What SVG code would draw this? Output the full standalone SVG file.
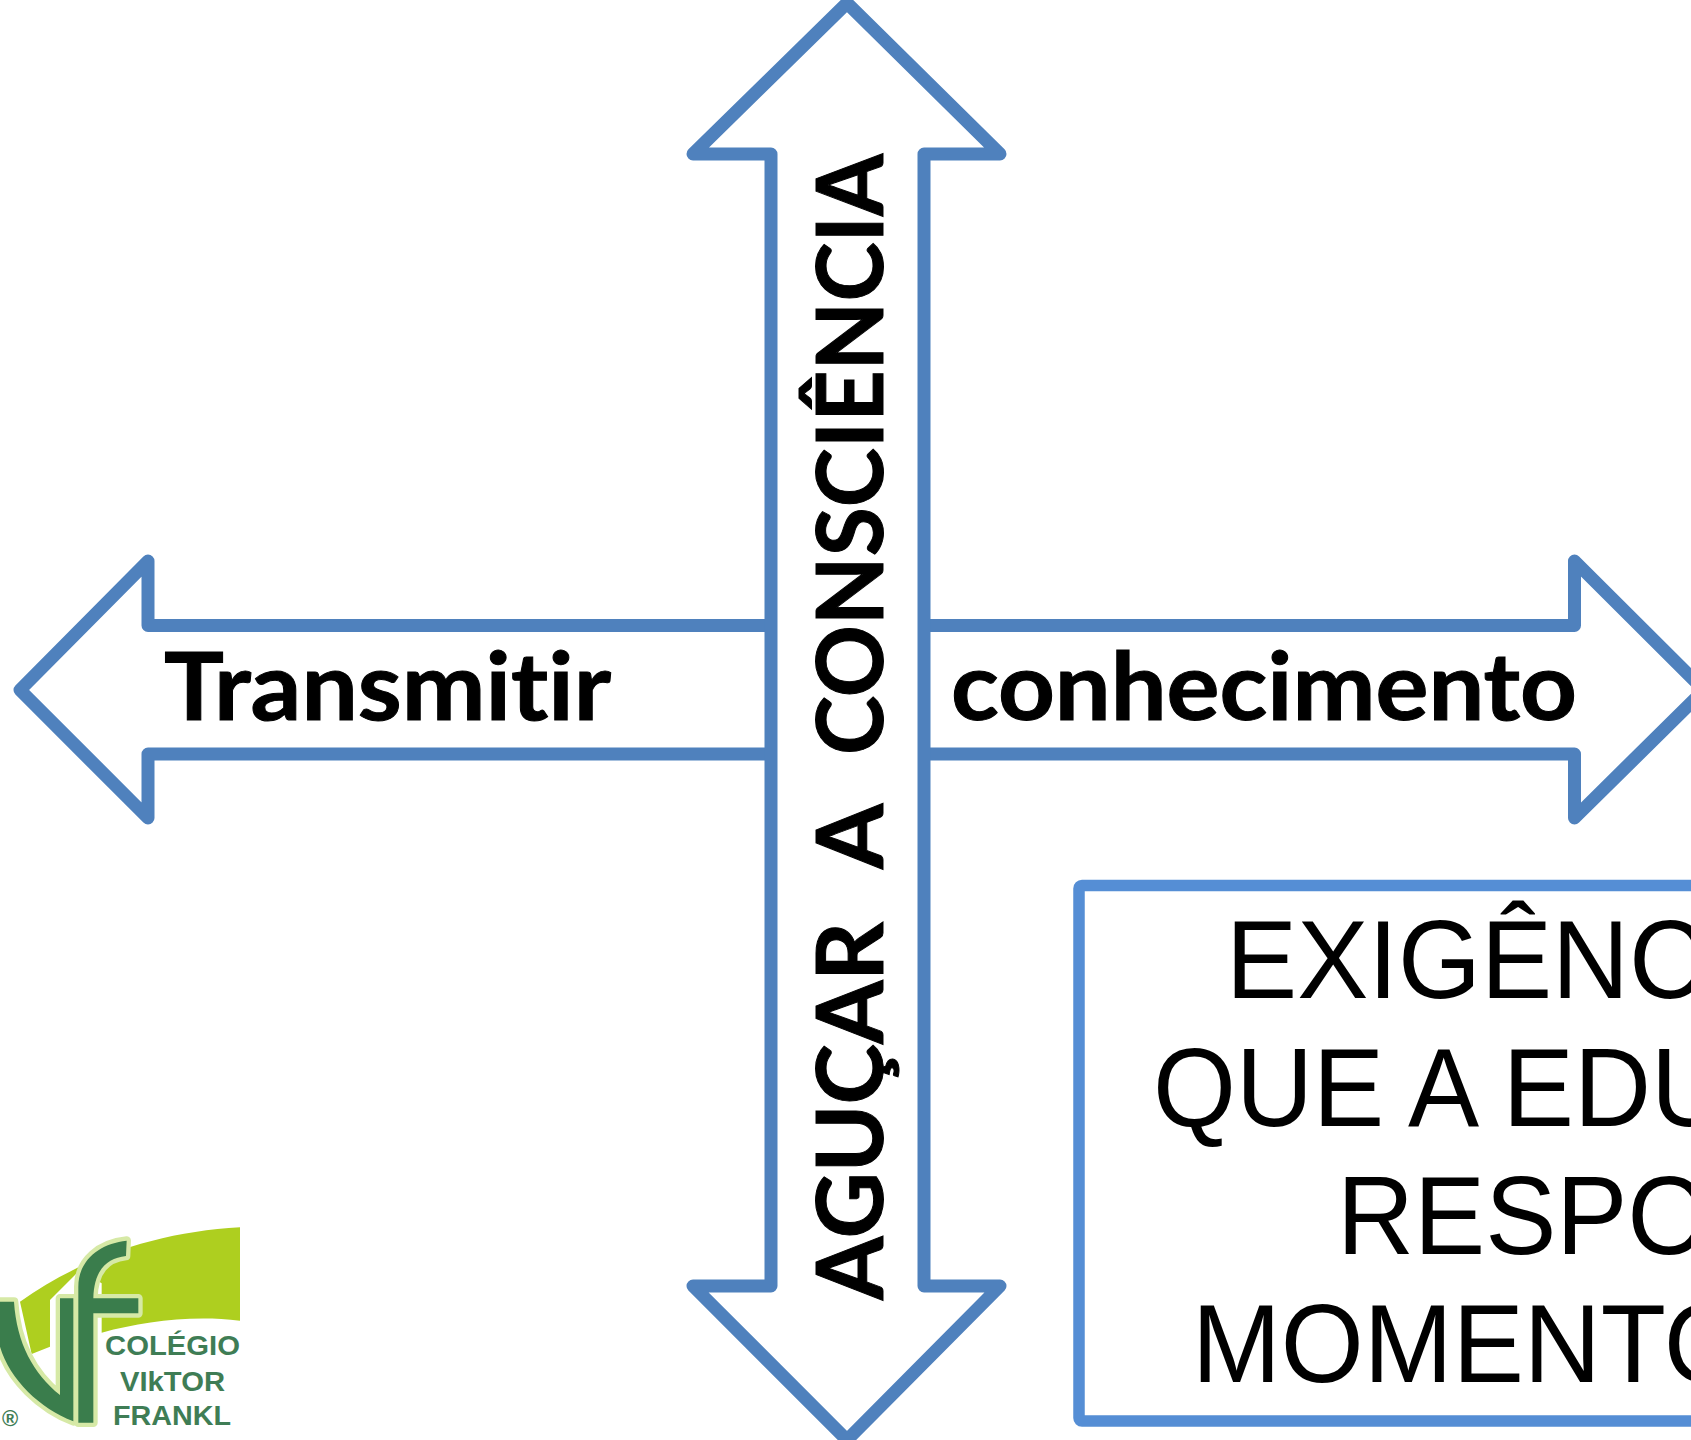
<svg xmlns="http://www.w3.org/2000/svg" width="1691" height="1440" viewBox="0 0 1691 1440">
<style>
.arrow{fill:#fff;stroke:#4f81bd;stroke-width:13;stroke-linejoin:round}
.bold{font-family:"Lato","Liberation Sans",sans-serif;font-weight:700;fill:#000;stroke:#000;stroke-width:1;font-variant-ligatures:none}
.big{font-family:"Liberation Sans",Arial,sans-serif;font-size:106.670px;fill:#000}
.logo{font-family:"Liberation Sans",Arial,sans-serif;font-weight:700;font-size:27px;fill:#3f7d55}
.dark{fill:#3a7d4c;stroke:#d6e9a6;stroke-width:26;paint-order:stroke;stroke-linejoin:round}
</style>
<rect width="1691" height="1440" fill="#fff"/>
<g id="connectors">
<path id="arrow-horizontal" class="arrow" d="M20 690 L148 561 L148 625.500 L1574.500 625.500 L1574.500 561 L1704 690 L1574.500 818 L1574.500 754 L148 754 L148 818 Z"/>
<path id="arrow-vertical" class="arrow" d="M847 3 L1000 154 L924 154 L924 1286 L1000 1286 L847 1440 L693 1286 L771 1286 L771 154 L693 154 Z"/>
</g>
<g id="label-transmitir"><text class="bold" x="164" y="720" font-size="94" textLength="447" lengthAdjust="spacingAndGlyphs">Transmitir</text></g>
<g id="label-conhecimento"><text class="bold" x="951" y="720" font-size="94" textLength="626" lengthAdjust="spacingAndGlyphs">conhecimento</text></g>
<g id="label-vertical"><text class="bold" transform="translate(883 1300) rotate(-90)" font-size="92"><tspan x="0" textLength="378" lengthAdjust="spacingAndGlyphs">AGUÇAR</tspan> <tspan x="431" textLength="62" lengthAdjust="spacingAndGlyphs">A</tspan> <tspan x="545" textLength="601" lengthAdjust="spacingAndGlyphs">CONSCIÊNCIA</tspan></text></g>
<g id="box">
<rect x="1079" y="885.500" width="700" height="535.500" rx="3" fill="#fff" stroke="#558ed5" stroke-width="11.500"/>
<text class="big" transform="translate(1226 998) scale(1 1.05)">EXIGÊNC</text>
<text class="big" transform="translate(1153 1126) scale(1 1.05)">QUE A EDU</text>
<text class="big" transform="translate(1337 1254) scale(1 1.05)">RESPO</text>
<text class="big" transform="translate(1192 1382) scale(1 1.05)">MOMENTO</text>
</g>
<g id="logo">
<g transform="translate(0 1200) scale(.33333)">
<path fill="#aecf1f" d="M60 305 C250 170 480 95 720 82 L720 362 C570 345 430 365 305 398 L305 250 L240 210 L150 300 L150 440 L95 462 Z"/>
<path class="dark" d="M0 305 L42 305 C50 430 100 520 180 585 L180 295 L220 295 L220 664 C120 625 30 540 0 440 Z"/>
<path class="dark" d="M235 668 L235 260 C235 180 300 130 380 122 L378 168 C320 175 282 210 280 295 L415 295 L415 340 L280 340 L280 668 Z"/>
</g>
<text class="logo" x="105" y="1355" textLength="135" lengthAdjust="spacingAndGlyphs">COLÉGIO</text>
<text class="logo" x="120" y="1391" textLength="105" lengthAdjust="spacingAndGlyphs">VIkTOR</text>
<text class="logo" x="113" y="1425" textLength="118" lengthAdjust="spacingAndGlyphs">FRANKL</text>
<text x="10" y="1426" font-family="Liberation Sans,sans-serif" font-size="22" font-weight="700" fill="#3f7d55" text-anchor="middle">®</text>
</g>
</svg>
